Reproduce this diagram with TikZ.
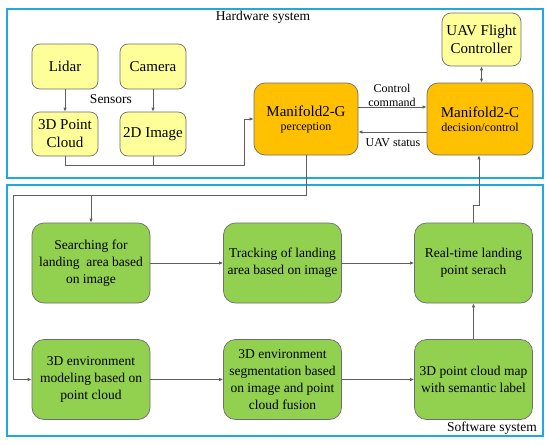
\documentclass[tikz,border=0pt]{standalone}
\usepackage{fontspec}
\setmainfont{Liberation Serif}
\usetikzlibrary{arrows.meta}
\definecolor{frameblue}{RGB}{30,170,225}
\definecolor{boxyellow}{RGB}{255,255,153}
\definecolor{boxorange}{RGB}{255,192,0}
\definecolor{boxgreen}{RGB}{146,208,80}
\definecolor{linegray}{RGB}{95,95,95}
\definecolor{bordergray}{RGB}{110,110,110}
\begin{document}
\begin{tikzpicture}[x=1pt,y=-1pt,
  frame/.style={draw=frameblue,line width=1.6pt},
  ybox/.style={draw=bordergray,fill=boxyellow,rounded corners=8pt,align=center,inner sep=0pt,line width=0.7pt,font=\fontsize{15}{18}\selectfont},
  obox/.style={draw=bordergray,fill=boxorange,rounded corners=11pt,align=center,inner sep=0pt,line width=0.7pt},
  gbox/.style={draw=bordergray,fill=boxgreen,rounded corners=12pt,align=center,inner sep=0pt,line width=0.7pt,minimum width=118pt,minimum height=80pt,font=\fontsize{13.5}{17}\selectfont},
  conn/.style={draw=linegray,line width=0.8pt},
  arr/.style={conn,-{Latex[length=4pt,width=3.5pt]}},
  lbl/.style={font=\fontsize{12}{14}\selectfont,align=center,inner sep=0pt}
]
\useasboundingbox (0,0) rectangle (550,445);
% frames
\draw[frame] (7,9) rectangle (543,178);
\draw[frame] (7,185) rectangle (543,436);
\node[font=\fontsize{13.5}{16}\selectfont,inner sep=0pt] (hw) at (263,17) {Hardware system};
\node[font=\fontsize{13.5}{16}\selectfont,inner sep=0pt,anchor=east] (sw) at (537,428) {Software system};
% hardware nodes
\node[ybox,minimum width=66pt,minimum height=45pt] (lidar) at (65,66.5) {Lidar};
\node[ybox,minimum width=66pt,minimum height=45pt] (camera) at (153,66.5) {Camera};
\node[ybox,minimum width=66pt,minimum height=44pt] (pc) at (65,134) {3D Point\\Cloud};
\node[ybox,minimum width=66pt,minimum height=44pt] (img) at (153,134) {2D Image};
\node[font=\fontsize{13.5}{16}\selectfont,inner sep=0pt] (sensors) at (111,99) {Sensors};
\node[obox,minimum width=104pt,minimum height=72pt] (m2g) at (306,119) {{\fontsize{15}{18}\selectfont Manifold2-G}\\[2pt]{\fontsize{12}{14}\selectfont perception}};
\node[obox,minimum width=106pt,minimum height=72pt] (m2c) at (480,119) {{\fontsize{15}{18}\selectfont Manifold2-C}\\[2pt]{\fontsize{12}{14}\selectfont decision/control}};
\node[ybox,minimum width=79pt,minimum height=53pt,rounded corners=9pt] (fc) at (481.5,39.5) {UAV Flight\\Controller};
% software nodes
\node[gbox] (search) at (91,263) {Searching for\\landing\ \ area based\\on image};
\node[gbox] (track) at (282.5,263) {Tracking of landing\\area based on image};
\node[gbox] (rt) at (473.5,263) {Real-time landing\\point serach};
\node[gbox] (env) at (91,379.5) {3D environment\\modeling based on\\point cloud};
\node[gbox] (seg) at (282.5,379.5) {3D environment\\segmentation based\\on image and point\\cloud fusion};
\node[gbox] (map) at (473.5,379.5) {3D point cloud map\\with semantic label};
% hardware connectors
\draw[arr] (lidar) -- (pc);
\draw[arr] (camera) -- (img);
\coordinate (s1) at (244,165);
\draw[arr] (pc.south) |- (s1) |- (m2g.west);
\draw[conn] (img.south) -- (img.south |- s1);
\draw[arr] ([yshift=12pt]m2g.east) -- ([yshift=12pt]m2c.west);
\draw[arr] ([yshift=-13pt]m2c.west) -- ([yshift=-13pt]m2g.east);
\node[lbl] (cc) at (392,95) {Control\\command};
\node[lbl] (us) at (393,143) {UAV status};
\draw[conn,{Latex[length=4pt,width=3.5pt]}-{Latex[length=4pt,width=3.5pt]}] (fc.south) -- (fc.south |- m2c.north);
% software connectors
\coordinate (c1) at (13,195);
\draw[arr] (m2g.south) |- (c1) |- (env.west);
\draw[arr] (search.north |- c1) -- (search.north);
\draw[arr] (search) -- (track);
\draw[arr] (track) -- (rt);
\draw[arr] (env) -- (seg);
\draw[arr] (seg) -- (map);
\draw[arr] (map) -- (rt);
\coordinate (k) at (0,205);
\draw[arr] (rt.north) -- (rt.north |- k) -| ([xshift=-1pt]m2c.south);
\end{tikzpicture}
\end{document}
